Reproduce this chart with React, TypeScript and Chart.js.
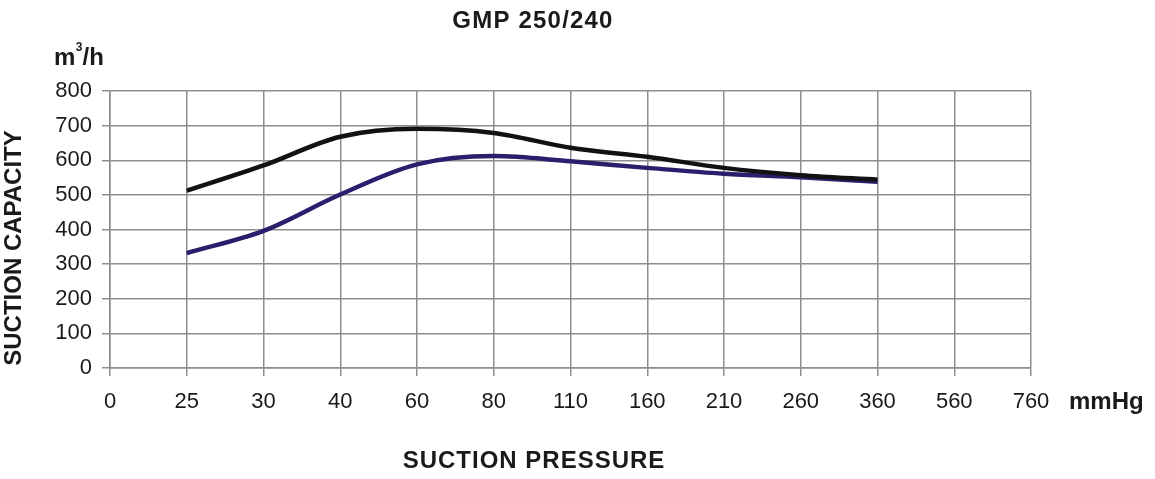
import React, { useEffect, useRef } from "react";
import { Chart, registerables } from "chart.js";

Chart.register(...registerables);

const chartTitle = "GMP 250/240";
const yUnit = "m";
const yUnitSup = "3";
const yUnitTail = "/h";
const xUnit = "mmHg";
const xAxisTitle = "SUCTION PRESSURE";
const yAxisTitle = "SUCTION CAPACITY";

const pressureLabels = ["0", "25", "30", "40", "60", "80", "110", "160", "210", "260", "360", "560", "760"];
const capacityMin = 0;
const capacityMax = 800;
const capacityStep = 100;

const upperCurve = [null, 512, 585, 668, 691, 679, 636, 610, 578, 557, 544, null, null];
const lowerCurve = [null, 332, 396, 501, 588, 612, 597, 578, 561, 551, 538, null, null];

const FONT = "'Liberation Sans', Arial, Helvetica, sans-serif";
const GRID = "#8e8e8e";

const textPlugin = {
  id: "textPlugin",
  afterDraw(chart: any) {
    const ctx = chart.ctx as CanvasRenderingContext2D;
    ctx.save();
    ctx.fillStyle = "#1a1a1a";
    ctx.textBaseline = "alphabetic";

    // title
    ctx.font = `bold 24px ${FONT}`;
    (ctx as any).letterSpacing = "1.2px";
    ctx.textAlign = "center";
    ctx.fillText(chartTitle, 533, 28);

    // x axis title
    (ctx as any).letterSpacing = "1px";
    ctx.fillText(xAxisTitle, 534, 468);

    // y axis title (rotated)
    ctx.save();
    ctx.translate(21, 248);
    ctx.rotate(-Math.PI / 2);
    (ctx as any).letterSpacing = "0px";
    ctx.fillText(yAxisTitle, 0, 0);
    ctx.restore();

    // unit m3/h
    (ctx as any).letterSpacing = "0px";
    ctx.textAlign = "left";
    ctx.font = `bold 24px ${FONT}`;
    ctx.fillText(yUnit, 54, 65);
    const mw = ctx.measureText(yUnit).width;
    ctx.font = `bold 12px ${FONT}`;
    ctx.fillText(yUnitSup, 54 + mw + 0.5, 51);
    const sw = ctx.measureText(yUnitSup).width;
    ctx.font = `bold 24px ${FONT}`;
    ctx.fillText(yUnitTail, 54 + mw + sw + 0.5, 65);

    // x unit
    ctx.fillText(xUnit, 1069, 409);
    ctx.restore();
  },
};

export default function App() {
  const ref = useRef<HTMLCanvasElement | null>(null);

  useEffect(() => {
    if (!ref.current) return;
    const chart = new Chart(ref.current, {
      type: "line",
      data: {
        labels: pressureLabels,
        datasets: [
          {
            label: "upper",
            data: upperCurve,
            borderColor: "#121212",
            borderWidth: 4.5,
            pointRadius: 0,
            cubicInterpolationMode: "monotone",
            fill: false,
          },
          {
            label: "lower",
            data: lowerCurve,
            borderColor: "#2a1f6c",
            borderWidth: 4.5,
            pointRadius: 0,
            cubicInterpolationMode: "monotone",
            fill: false,
          },
        ],
      },
      options: {
        animation: false,
        responsive: false,
        devicePixelRatio: 1,
        layout: { padding: { top: 91, right: 124, bottom: 0, left: 0 } },
        plugins: {
          legend: { display: false },
          title: { display: false },
          tooltip: { enabled: false },
        },
        scales: {
          x: {
            type: "category",
            offset: false,
            grid: { color: GRID, lineWidth: 1.5, tickLength: 8, drawTicks: true },
            border: { color: GRID, width: 1.5 },
            ticks: {
              color: "#1a1a1a",
              font: { family: FONT, size: 22 },
              padding: 13,
              maxRotation: 0,
              autoSkip: false,
            },
            afterFit: (s: any) => {
              s.height = 111;
            },
          },
          y: {
            min: capacityMin,
            max: capacityMax,
            grid: { color: GRID, lineWidth: 1.5, tickLength: 8, drawTicks: true },
            border: { color: GRID, width: 1.5 },
            ticks: {
              stepSize: capacityStep,
              color: "#1a1a1a",
              font: { family: FONT, size: 22 },
              padding: 10,
            },
            afterFit: (s: any) => {
              s.width = 110;
            },
          },
        },
      },
      plugins: [textPlugin],
    });
    return () => chart.destroy();
  }, []);

  return (
    <div style={{ position: "absolute", left: 0, top: 0, width: 1155, height: 479, background: "#fff" }}>
      <canvas ref={ref} width={1155} height={479} style={{ width: 1155, height: 479, display: "block" }} />
    </div>
  );
}
